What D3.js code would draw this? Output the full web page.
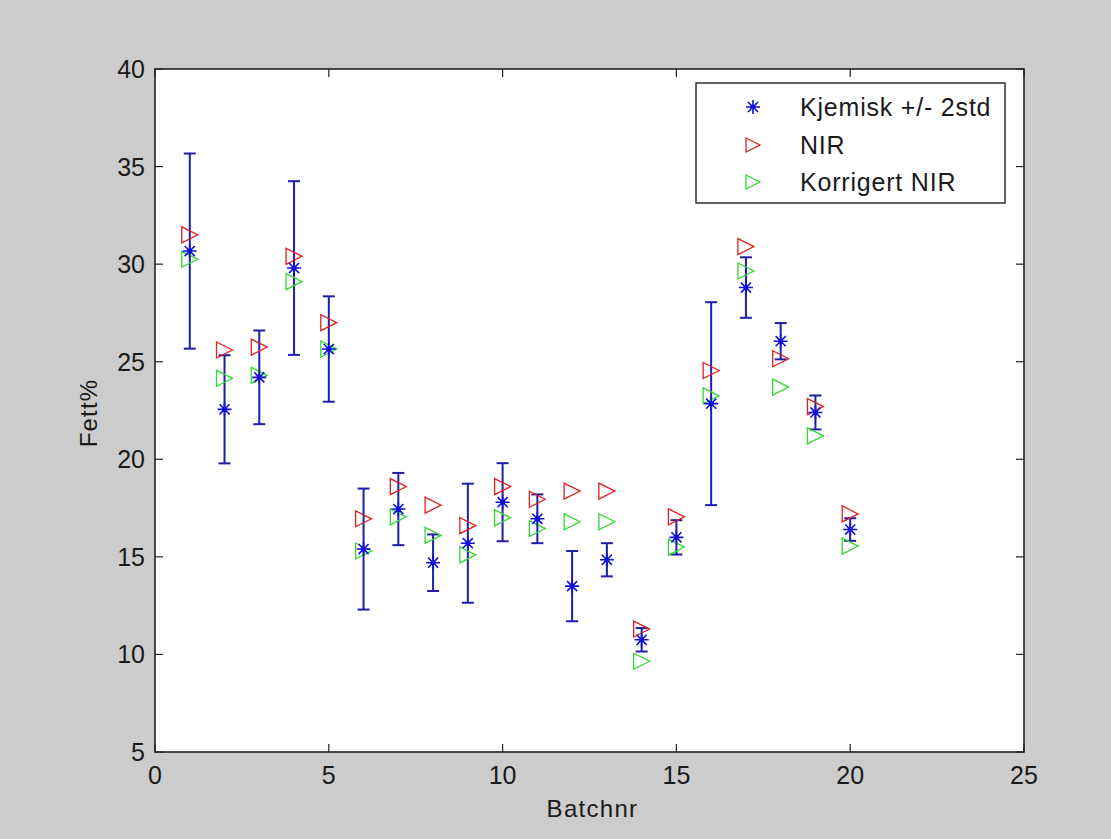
<!DOCTYPE html>
<html>
<head>
<meta charset="utf-8">
<script src="https://cdn.jsdelivr.net/npm/d3@7"></script>
<style>
  html, body { margin: 0; padding: 0; background: #cccccc; }
  svg { display: block; }
  text { font-family: Arial, "Liberation Sans", sans-serif; fill: #1a1a1a; }
</style>
</head>
<body>
<svg id="chart" width="1111" height="839"></svg>
<script>
// Batch numbers
const batches = [1, 2, 3, 4, 5, 6, 7, 8, 9, 10, 11, 12, 13, 14, 15, 16, 17, 18, 19, 20];
// Chemical reference value (fat %) and its 2-std half-width
const kjemisk = [30.67, 22.56, 24.2, 29.8, 25.65, 15.4, 17.45, 14.7, 15.7, 17.8, 16.95, 13.5, 14.85, 10.75, 16.0, 22.85, 28.8, 26.05, 22.4, 16.4];
const twoStd  = [5.0, 2.77, 2.4, 4.45, 2.7, 3.1, 1.85, 1.45, 3.05, 2.0, 1.25, 1.8, 0.85, 0.6, 0.88, 5.2, 1.55, 0.93, 0.87, 0.58];
// NIR prediction and corrected NIR prediction
const nir      = [31.5, 25.6, 25.75, 30.4, 27.0, 16.95, 18.6, 17.65, 16.6, 18.6, 17.95, 18.37, 18.37, 11.3, 17.05, 24.55, 30.9, 25.15, 22.7, 17.2];
const nirKorr  = [30.25, 24.15, 24.3, 29.1, 25.65, 15.3, 17.05, 16.1, 15.1, 17.0, 16.45, 16.8, 16.8, 9.65, 15.5, 23.25, 29.65, 23.7, 21.2, 15.55];

const xTicks = [0, 5, 10, 15, 20, 25];
const yTicks = [5, 10, 15, 20, 25, 30, 35, 40];
const legendLabels = ["Kjemisk +/- 2std", "NIR", "Korrigert NIR"];

const colBlue = "#1010d8";
const colBar = "#1e1ea6";
const colRed = "#e02020";
const colGreen = "#30d830";

const svg = d3.select("#chart");
const L = 155, R = 1024, T = 69, B = 752;

const x = d3.scaleLinear().domain([0, 25]).range([L, R]);
const y = d3.scaleLinear().domain([5, 40]).range([B, T]);

// axes area
svg.append("rect").attr("x", L).attr("y", T).attr("width", R - L).attr("height", B - T)
  .attr("fill", "#ffffff");

const tickLen = 8;
const ax = svg.append("g").attr("stroke", "#222").attr("stroke-width", 1.2);
// inward ticks on all four sides
xTicks.forEach(t => {
  ax.append("line").attr("x1", x(t)).attr("x2", x(t)).attr("y1", B).attr("y2", B - tickLen);
  ax.append("line").attr("x1", x(t)).attr("x2", x(t)).attr("y1", T).attr("y2", T + tickLen);
});
yTicks.forEach(t => {
  ax.append("line").attr("x1", L).attr("x2", L + tickLen).attr("y1", y(t)).attr("y2", y(t));
  ax.append("line").attr("x1", R).attr("x2", R - tickLen).attr("y1", y(t)).attr("y2", y(t));
});

// tick labels
svg.append("g").selectAll("text").data(xTicks).join("text")
  .attr("x", d => x(d)).attr("y", B + 32)
  .attr("text-anchor", "middle").attr("font-size", 25)
  .text(d => d);
svg.append("g").selectAll("text").data(yTicks).join("text")
  .attr("x", L - 10).attr("y", d => y(d) + 9)
  .attr("text-anchor", "end").attr("font-size", 25)
  .text(d => d);

// axis labels
svg.append("text").attr("x", (L + R) / 2 + 3).attr("y", 817)
  .attr("text-anchor", "middle").attr("font-size", 24).attr("letter-spacing", 1.3).text("Batchnr");
svg.append("text").attr("transform", `translate(97,413) rotate(-90)`)
  .attr("text-anchor", "middle").attr("font-size", 24).attr("letter-spacing", 1.2).text("Fett%");

const plot = svg.append("g");

// error bars
const eb = plot.append("g").attr("stroke", colBar).attr("stroke-width", 2).attr("fill", "none");
batches.forEach((b, i) => {
  const cx = x(b), y0 = y(kjemisk[i] - twoStd[i]), y1 = y(kjemisk[i] + twoStd[i]);
  eb.append("line").attr("x1", cx).attr("x2", cx).attr("y1", y0).attr("y2", y1);
  eb.append("line").attr("x1", cx - 6).attr("x2", cx + 6).attr("y1", y0).attr("y2", y0);
  eb.append("line").attr("x1", cx - 6).attr("x2", cx + 6).attr("y1", y1).attr("y2", y1);
});

// right-pointing triangle marker path
function triPath(cx, cy, s) {
  return `M${cx - s},${cy - s}L${cx + s},${cy}L${cx - s},${cy + s}Z`;
}
// star marker path
function starPath(cx, cy, s) {
  const d = s * 0.72;
  return `M${cx - s},${cy}L${cx + s},${cy}M${cx},${cy - s}L${cx},${cy + s}` +
         `M${cx - d},${cy - d}L${cx + d},${cy + d}M${cx - d},${cy + d}L${cx + d},${cy - d}`;
}

plot.append("g").selectAll("path").data(batches).join("path")
  .attr("d", (b, i) => triPath(x(b), y(nir[i]), 8))
  .attr("fill", "none").attr("stroke", colRed).attr("stroke-width", 1.3);
plot.append("g").selectAll("path").data(batches).join("path")
  .attr("d", (b, i) => triPath(x(b), y(nirKorr[i]), 8))
  .attr("fill", "none").attr("stroke", colGreen).attr("stroke-width", 1.3);
plot.append("g").selectAll("path").data(batches).join("path")
  .attr("d", (b, i) => starPath(x(b), y(kjemisk[i]), 7))
  .attr("fill", "none").attr("stroke", colBlue).attr("stroke-width", 1.6);
plot.append("g").selectAll("circle").data(batches).join("circle")
  .attr("cx", b => x(b)).attr("cy", (b, i) => y(kjemisk[i])).attr("r", 2.5).attr("fill", colBlue);

// box
svg.append("rect").attr("x", L).attr("y", T).attr("width", R - L).attr("height", B - T)
  .attr("fill", "none").attr("stroke", "#222").attr("stroke-width", 1.6);

// legend
const lg = svg.append("g");
lg.append("rect").attr("x", 696).attr("y", 83).attr("width", 309).attr("height", 120)
  .attr("fill", "#fff").attr("stroke", "#222").attr("stroke-width", 1.4);
const ly = [107, 145, 182];
lg.append("path").attr("d", starPath(753, ly[0], 7)).attr("stroke", colBlue).attr("stroke-width", 1.6).attr("fill", "none");
lg.append("circle").attr("cx", 753).attr("cy", ly[0]).attr("r", 2.5).attr("fill", colBlue);
lg.append("path").attr("d", triPath(753, ly[1], 7)).attr("stroke", colRed).attr("stroke-width", 1.3).attr("fill", "none");
lg.append("path").attr("d", triPath(753, ly[2], 7)).attr("stroke", colGreen).attr("stroke-width", 1.3).attr("fill", "none");
legendLabels.forEach((t, i) => {
  lg.append("text").attr("x", 800).attr("y", ly[i] + 9).attr("font-size", 25)
    .attr("letter-spacing", 0.8).text(t);
});
</script>
</body>
</html>
